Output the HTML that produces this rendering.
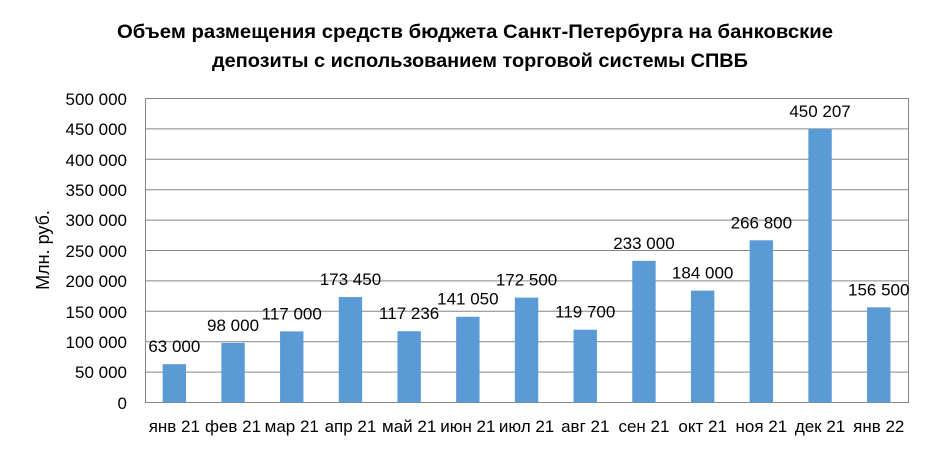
<!DOCTYPE html>
<html><head><meta charset="utf-8"><style>
body{margin:0;background:#fff;width:930px;height:452px;overflow:hidden}
text{font-family:"Liberation Sans","DejaVu Sans",sans-serif}
</style></head><body>
<svg width="930" height="452" xmlns="http://www.w3.org/2000/svg">
<text x="117" y="38" font-size="19" font-weight="bold" fill="#000" textLength="716" lengthAdjust="spacingAndGlyphs">Объем размещения средств бюджета Санкт-Петербурга на  банковские</text>
<text x="212" y="67" font-size="19" font-weight="bold" fill="#000" textLength="536" lengthAdjust="spacingAndGlyphs">депозиты с использованием торговой системы СПВБ</text>
<g stroke="#868686" stroke-width="1">
<line x1="145" y1="98.5" x2="908" y2="98.5"/>
<line x1="145" y1="128.9" x2="908" y2="128.9"/>
<line x1="145" y1="159.3" x2="908" y2="159.3"/>
<line x1="145" y1="189.7" x2="908" y2="189.7"/>
<line x1="145" y1="220.1" x2="908" y2="220.1"/>
<line x1="145" y1="250.5" x2="908" y2="250.5"/>
<line x1="145" y1="280.9" x2="908" y2="280.9"/>
<line x1="145" y1="311.3" x2="908" y2="311.3"/>
<line x1="145" y1="341.7" x2="908" y2="341.7"/>
<line x1="145" y1="372.1" x2="908" y2="372.1"/>
<line x1="145" y1="402.5" x2="908" y2="402.5"/>
<line x1="145.5" y1="98" x2="145.5" y2="403"/>
<line x1="908.5" y1="98" x2="908.5" y2="403"/>
</g>
<g font-size="17" fill="#000" text-anchor="end">
<text x="127" y="105">500 000</text>
<text x="127" y="135">450 000</text>
<text x="127" y="166">400 000</text>
<text x="127" y="196">350 000</text>
<text x="127" y="226">300 000</text>
<text x="127" y="257">250 000</text>
<text x="127" y="287">200 000</text>
<text x="127" y="318">150 000</text>
<text x="127" y="348">100 000</text>
<text x="127" y="378">50 000</text>
<text x="127" y="409">0</text>
</g>
<text transform="translate(49 250) rotate(-90)" text-anchor="middle" font-size="18">Млн. руб.</text>
<g fill="#5b9bd5" id="bars"></g>
<g id="labels" font-size="17" text-anchor="middle"></g>
<script>
var v=[63000,98000,117000,173450,117236,141050,172500,119700,233000,184000,266800,450207,156500];
var l=["63 000","98 000","117 000","173 450","117 236","141 050","172 500","119 700","233 000","184 000","266 800","450 207","156 500"];
var c=["янв 21","фев 21","мар 21","апр 21","май 21","июн 21","июл 21","авг 21","сен 21","окт 21","ноя 21","дек 21","янв 22"];
var ns="http://www.w3.org/2000/svg",b=document.getElementById("bars"),t=document.getElementById("labels");
for(var i=0;i<13;i++){var cx=145+58.7*(i+0.5);var h=v[i]/500000*304;
var r=document.createElementNS(ns,"rect");r.setAttribute("x",cx-11.7);r.setAttribute("y",402.5-h);r.setAttribute("width",23.4);r.setAttribute("height",h);b.appendChild(r);
var a=document.createElementNS(ns,"text");a.setAttribute("x",cx);a.setAttribute("y",402.5-h-12);a.textContent=l[i];t.appendChild(a);
var d=document.createElementNS(ns,"text");d.setAttribute("x",cx);d.setAttribute("y",432);d.textContent=c[i];t.appendChild(d);}
</script>
</svg>
</body></html>
